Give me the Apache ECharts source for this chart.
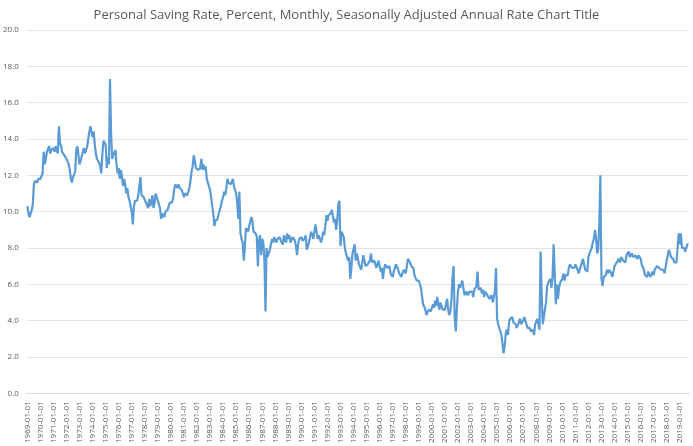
<!DOCTYPE html>
<html>
<head>
<meta charset="utf-8">
<script src="https://cdn.jsdelivr.net/npm/echarts@6/dist/echarts.min.js"></script>
<style>html,body{margin:0;padding:0;background:#fff}#chart{width:693px;height:446px}</style>
</head>
<body>
<div id="chart"></div>
<script>
// monthly values, one array per year
const y1969 = [10.3,9.9,9.7,9.8,10.1,10.4,11.5,11.7,11.6,11.6,11.8,11.7];
const y1970 = [11.8,11.7,12.1,13.3,12.6,12.9,13.3,13.2,13.6,13.2,13.4,13.5];
const y1971 = [13.5,13.3,13.6,13.4,13.2,14.7,13.8,13.6,13.3,13.4,13.1,13.0];
const y1972 = [12.9,12.8,12.6,12.3,11.8,11.6,11.9,12.0,12.2,13.4,13.6,13.7];
const y1973 = [12.6,12.8,12.9,13.3,13.5,13.2,13.1,13.6,13.6,14.4,14.7,14.8];
const y1974 = [14.1,14.4,13.7,13.2,12.9,12.8,12.7,12.5,12.1,13.2,13.9,14.0];
const y1975 = [13.7,12.4,13.0,12.6,17.3,14.3,12.9,13.1,13.2,13.4,12.6,12.1];
const y1976 = [12.4,11.8,12.3,11.9,11.4,11.8,11.5,11.0,11.3,10.8,10.6,10.5];
const y1977 = [10.0,9.3,10.3,10.6,10.5,10.6,10.9,11.0,11.9,10.9,10.9,10.8];
const y1978 = [10.9,10.5,10.6,10.2,10.7,10.3,10.5,10.9,10.2,10.5,11.0,10.9];
const y1979 = [10.6,10.4,10.2,9.6,9.9,9.9,9.7,10.0,10.0,10.1,10.3,10.5];
const y1980 = [10.6,10.5,10.7,11.2,11.5,11.4,11.3,11.5,11.3,11.4,11.2,11.0];
const y1981 = [10.8,11.0,11.0,10.9,11.1,11.3,11.7,12.2,12.5,13.1,12.8,12.4];
const y1982 = [12.5,12.3,12.2,12.4,12.9,12.3,12.6,12.3,12.5,11.8,11.6,11.7];
const y1983 = [11.2,10.8,10.3,9.9,9.2,9.5,9.4,9.6,9.9,9.9,10.3,10.6];
const y1984 = [10.8,11.1,10.9,11.3,11.8,11.6,11.7,11.5,11.6,11.8,11.4,11.3];
const y1985 = [11.0,10.5,9.6,11.1,8.8,8.5,8.3,7.3,8.0,9.1,9.0,8.9];
const y1986 = [9.2,9.3,9.7,9.5,8.9,9.0,8.8,8.6,7.0,8.4,8.7,7.6];
const y1987 = [8.5,8.3,7.4,4.5,8.0,7.5,7.6,7.9,8.2,8.5,8.3,8.6];
const y1988 = [8.6,8.3,8.5,8.4,8.6,8.4,8.5,8.2,8.7,8.5,8.3,8.8];
const y1989 = [8.5,8.7,8.3,8.4,8.6,8.7,8.4,8.1,7.6,8.2,8.5,8.6];
const y1990 = [8.6,8.4,8.3,8.5,8.7,7.9,8.0,8.3,8.6,8.9,8.8,8.5];
const y1991 = [8.6,9.3,8.9,8.5,8.7,8.6,8.3,8.5,8.9,8.7,9.2,9.8];
const y1992 = [9.5,9.8,9.7,9.9,10.1,10.0,9.4,9.6,9.0,9.5,10.4,10.6];
const y1993 = [8.1,8.9,8.8,8.6,8.0,7.7,7.5,7.3,7.5,6.3,6.9,7.7];
const y1994 = [7.6,8.2,7.3,7.7,7.4,7.1,7.0,6.8,7.2,7.6,7.5,7.0];
const y1995 = [6.9,7.1,7.0,7.3,7.7,7.2,7.1,7.3,7.1,6.9,7.0,7.3];
const y1996 = [7.0,6.7,6.9,6.3,6.8,7.1,7.0,6.9,6.8,7.0,6.6,6.5];
const y1997 = [6.4,6.7,6.9,7.1,7.0,6.8,6.6,6.5,6.4,6.6,6.8,6.7];
const y1998 = [6.6,7.0,7.4,7.5,7.2,7.0,7.0,6.9,6.5,6.4,6.2,6.3];
const y1999 = [6.2,6.0,5.8,5.3,4.9,4.8,4.6,4.3,4.4,4.6,4.7,4.5];
const y2000 = [4.4,4.9,4.7,5.1,4.8,5.3,4.9,4.6,5.0,4.8,4.6,4.7];
const y2001 = [4.6,4.9,5.2,4.6,4.3,4.5,5.1,6.4,7.0,4.2,3.4,4.6];
const y2002 = [5.6,6.0,5.8,5.9,6.2,6.1,5.4,5.5,5.6,5.4,5.5,5.6];
const y2003 = [5.5,5.6,5.3,5.7,5.8,5.9,6.7,5.7,5.6,5.8,5.5,5.7];
const y2004 = [5.3,5.6,5.5,5.4,5.5,5.2,5.1,5.4,5.0,5.3,5.6,6.9];
const y2005 = [4.1,3.8,3.9,3.4,3.2,3.1,2.2,2.6,3.3,3.5,3.2,3.9];
const y2006 = [4.1,4.2,4.2,3.9,4.0,3.8,3.6,3.7,3.9,4.1,3.8,3.9];
const y2007 = [4.0,4.2,4.1,3.8,3.6,3.5,3.6,3.4,3.3,3.5,3.2,3.8];
const y2008 = [3.9,4.1,4.0,3.5,7.8,5.5,3.8,4.2,4.6,5.0,5.9,6.1];
const y2009 = [6.0,6.3,5.8,6.4,8.2,6.6,4.9,6.0,5.2,5.8,6.1,6.0];
const y2010 = [6.3,6.6,6.2,6.5,6.4,6.5,6.9,7.1,7.0,6.9,6.8,6.9];
const y2011 = [7.1,7.0,6.8,6.6,6.7,7.0,7.0,7.4,7.1,6.8,6.8,6.7];
const y2012 = [7.5,7.7,7.8,8.0,8.3,8.5,9.0,8.6,7.7,7.9,9.3,12.0];
const y2013 = [6.3,5.9,6.4,6.5,6.5,6.8,6.6,6.8,6.9,6.6,6.4,6.3];
const y2014 = [7.0,7.1,7.2,7.3,7.4,7.2,7.5,7.4,7.3,7.4,7.2,7.6];
const y2015 = [7.7,7.8,7.5,7.6,7.7,7.5,7.6,7.6,7.5,7.4,7.6,7.5];
const y2016 = [7.4,7.1,7.2,6.8,6.5,6.4,6.4,6.7,6.7,6.4,6.4,6.7];
const y2017 = [6.5,6.8,6.9,7.0,7.1,6.9,7.0,6.8,6.7,6.8,6.6,6.7];
const y2018 = [7.3,7.6,7.9,7.8,7.5,7.4,7.4,7.2,7.1,7.2,7.3,8.8];
const y2019 = [8.2,8.8,8.0,7.9,8.0,7.8,8.0,8.2,8.2];

const years = [y1969,y1970,y1971,y1972,y1973,y1974,y1975,y1976,y1977,y1978,y1979,y1980,
  y1981,y1982,y1983,y1984,y1985,y1986,y1987,y1988,y1989,y1990,y1991,y1992,y1993,y1994,
  y1995,y1996,y1997,y1998,y1999,y2000,y2001,y2002,y2003,y2004,y2005,y2006,y2007,y2008,
  y2009,y2010,y2011,y2012,y2013,y2014,y2015,y2016,y2017,y2018,y2019];

const dates = [];
const values = [];
years.forEach((arr, i) => {
  arr.forEach((v, m) => {
    dates.push((1969 + i) + '-' + String(m + 1).padStart(2, '0') + '-01');
    values.push(v);
  });
});

const font = '"Liberation Sans Narrow", "Open Sans", sans-serif';
const chart = echarts.init(document.getElementById('chart'));
chart.setOption({
  animation: false,
  title: {
    text: 'Personal Saving Rate, Percent, Monthly, Seasonally Adjusted Annual Rate Chart Title',
    left: 'center', top: 4,
    textStyle: { fontFamily: font, fontSize: 13, fontWeight: 'normal', color: '#595959' }
  },
  grid: { left: 25, right: 4, top: 30, bottom: 49 },
  xAxis: {
    type: 'category',
    data: dates,
    boundaryGap: true,
    axisLine: { lineStyle: { color: '#d9d9d9' } },
    axisTick: { interval: 11, lineStyle: { color: '#d9d9d9' } },
    axisLabel: { interval: 11, rotate: 90, fontSize: 8, color: '#595959', fontFamily: font }
  },
  yAxis: {
    type: 'value', min: 0, max: 20, interval: 2,
    axisLabel: { fontSize: 8, color: '#595959', fontFamily: font, formatter: v => v.toFixed(1) },
    splitLine: { lineStyle: { color: '#e3e3e3' } }
  },
  series: [{
    type: 'line', data: values, showSymbol: false,
    lineStyle: { color: '#5b9bd5', width: 2.2 }
  }]
});
</script>
</body>
</html>
